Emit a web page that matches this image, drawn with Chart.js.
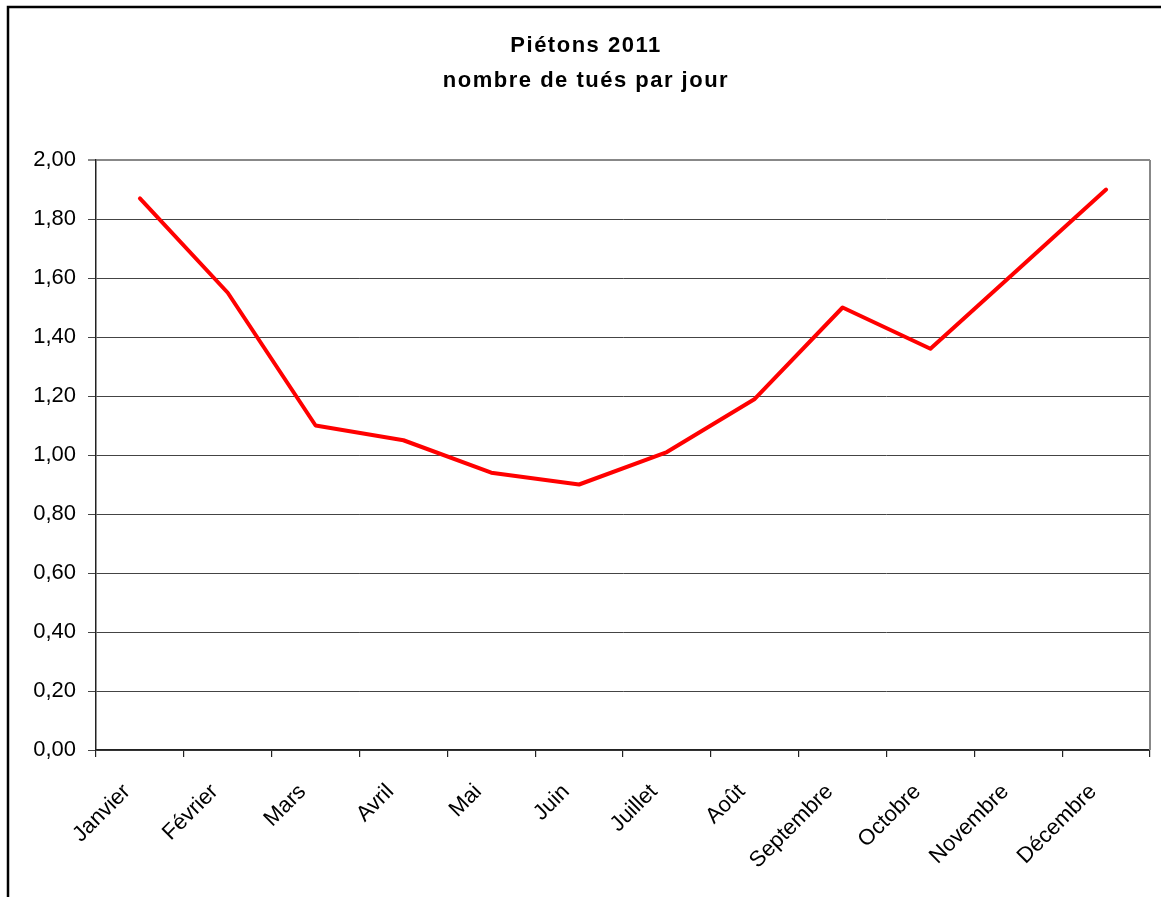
<!DOCTYPE html>
<html>
<head>
<meta charset="utf-8">
<script src="https://cdn.jsdelivr.net/npm/chart.js@4"></script>
<style>
  html, body { margin: 0; padding: 0; background: #fff; }
  #wrap { width: 1161px; height: 897px; }
</style>
</head>
<body>
<div id="wrap"><canvas id="chart" width="1161" height="897"></canvas></div>
<script>
const months = ['Janvier', 'Février', 'Mars', 'Avril', 'Mai', 'Juin', 'Juillet', 'Août', 'Septembre', 'Octobre', 'Novembre', 'Décembre'];
const killedPerDay = [1.87, 1.55, 1.10, 1.05, 0.94, 0.90, 1.01, 1.19, 1.50, 1.36, 1.63, 1.90];
const titleLines = ['Piétons 2011', 'nombre de tués par jour'];
const yMin = 0, yMax = 2, yStep = 0.2;

Chart.defaults.font.family = '"Liberation Sans", Arial, sans-serif';
Chart.defaults.color = '#000';

// outer frame (cut off on right and bottom), white bg, title letter spacing
const framePlugin = {
  id: 'frame',
  beforeDraw(chart) {
    const ctx = chart.ctx;
    ctx.save();
    ctx.fillStyle = '#fff';
    ctx.fillRect(0, 0, chart.width, chart.height);
    ctx.strokeStyle = '#000';
    ctx.lineWidth = 2.5;
    ctx.beginPath();
    ctx.moveTo(8, chart.height);
    ctx.lineTo(8, 7);
    ctx.lineTo(chart.width, 7);
    ctx.stroke();
    ctx.restore();

    const tb = chart.titleBlock;
    if (tb && !tb._spaced) {
      const orig = tb.draw.bind(tb);
      tb.draw = function (...args) {
        const c = chart.ctx;
        c.save();
        c.translate(11, 0); // title sits a little right of centre in the original
        c.letterSpacing = '1.5px';
        orig(...args);
        c.restore();
        c.letterSpacing = '0px';
      };
      tb._spaced = true;
    }
  },
  beforeDatasetsDraw(chart) {
    const { ctx, chartArea } = chart;
    ctx.save();
    ctx.strokeStyle = '#888';
    ctx.lineWidth = 2;
    ctx.beginPath();
    ctx.moveTo(chartArea.right, chartArea.top);
    ctx.lineTo(chartArea.right, chartArea.bottom);
    ctx.stroke();
    ctx.restore();
  }
};

new Chart(document.getElementById('chart'), {
  type: 'line',
  data: {
    labels: months,
    datasets: [{
      data: killedPerDay,
      borderColor: '#ff0000',
      borderWidth: 4,
      borderCapStyle: 'round',
      borderJoinStyle: 'round',
      tension: 0,
      pointRadius: 0,
      fill: false
    }]
  },
  options: {
    responsive: false,
    animation: false,
    devicePixelRatio: 1,
    layout: { padding: { left: 0, right: 11, top: 0, bottom: 0 } },
    plugins: {
      legend: { display: false },
      tooltip: { enabled: false },
      title: {
        display: true,
        text: titleLines,
        color: '#000',
        font: { size: 22, weight: 'bold', lineHeight: 35 / 22 },
        padding: { top: 28, bottom: 62 }
      }
    },
    scales: {
      x: {
        offset: true,
        grid: { offset: true, drawOnChartArea: false, drawTicks: true, tickLength: 7, color: '#222', lineWidth: 1.2 },
        border: { color: '#222', width: 1.5 },
        ticks: { font: { size: 22 }, maxRotation: 45, minRotation: 45, autoSkip: false, padding: 22, labelOffset: -13 },
        afterFit(scale) { scale.height = 147; }
      },
      y: {
        min: yMin,
        max: yMax,
        grid: {
          color: c => (c.tick && c.tick.value === yMax ? '#888' : '#444'),
          lineWidth: c => (c.tick && c.tick.value === yMax ? 2 : 1),
          tickLength: 8
        },
        border: { color: '#222', width: 1.5 },
        ticks: {
          stepSize: yStep,
          font: { size: 22 },
          padding: 12,
          callback: v => v.toFixed(2).replace('.', ',')
        },
        afterFit(scale) { scale.width = 96; }
      }
    }
  },
  plugins: [framePlugin]
});
</script>
</body>
</html>
